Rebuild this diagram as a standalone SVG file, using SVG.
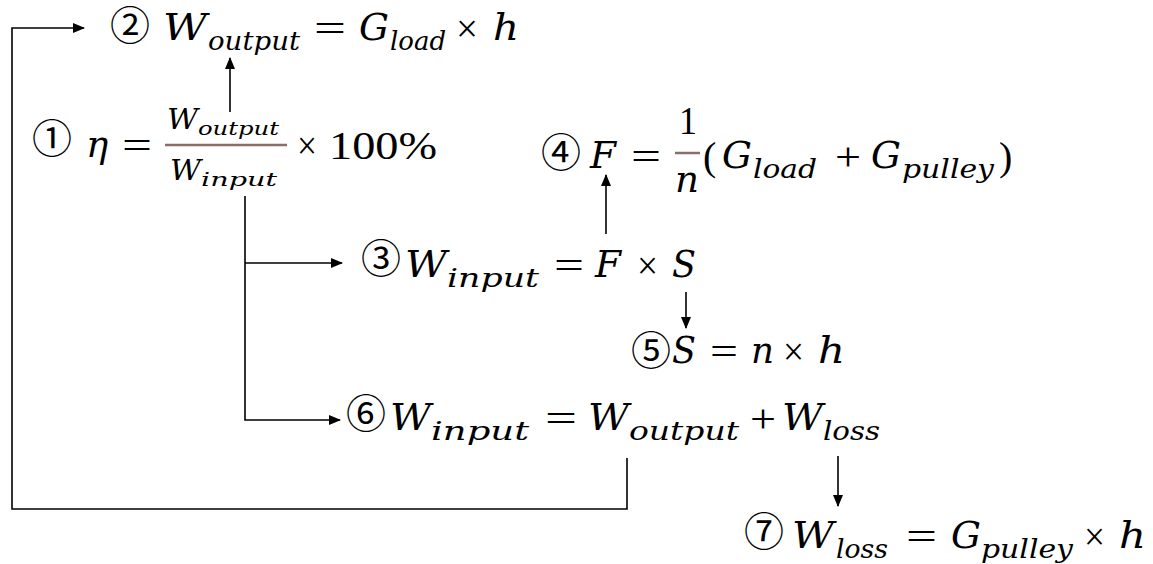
<svg xmlns="http://www.w3.org/2000/svg" width="1153" height="564" viewBox="0 0 1153 564">
<style>
.c{font-family:'Noto Sans CJK JP','Noto Sans CJK SC',sans-serif;font-size:40px;text-anchor:middle;fill:#000}
.v{font-family:'DejaVu Serif','Liberation Serif',serif;font-style:italic;font-size:37px;fill:#000}
.s{font-family:'DejaVu Serif','Liberation Serif',serif;font-style:italic;font-size:26px;fill:#000}
.fs{font-family:'DejaVu Serif','Liberation Serif',serif;font-style:italic;font-size:19px;fill:#000}
.o{font-family:'Liberation Serif','DejaVu Serif',serif;font-size:40px;fill:#000}
.ln{stroke:#000;stroke-width:1.6;fill:none}
.fr{stroke:#8c6d68;stroke-width:2.5}
</style>
<defs>
<marker id="ah" markerWidth="12" markerHeight="10" refX="11" refY="5" orient="auto" markerUnits="userSpaceOnUse">
<path d="M0,0 L12,5 L0,10 Z" fill="#000"/>
</marker>
</defs>
<g id="connectors">
<path class="ln" d="M627,458 V509 H12 V28 H84" marker-end="url(#ah)"/>
<path class="ln" d="M230,112 V58" marker-end="url(#ah)"/>
<path class="ln" d="M245,196 V420 H340" marker-end="url(#ah)"/>
<path class="ln" d="M245,263 H342" marker-end="url(#ah)"/>
<path class="ln" d="M606,234 V175" marker-end="url(#ah)"/>
<path class="ln" d="M686,292 V328" marker-end="url(#ah)"/>
<path class="ln" d="M838,456 V506" marker-end="url(#ah)"/>
</g>
<g id="node2">
<text class="c" x="130" y="40">②</text>
<text class="v" x="163" y="40" textLength="44" lengthAdjust="spacingAndGlyphs">W</text>
<text class="s" x="208" y="50" textLength="92" lengthAdjust="spacingAndGlyphs">output</text>
<text class="o" x="314" y="42" textLength="32" lengthAdjust="spacingAndGlyphs">=</text>
<text class="v" x="359" y="40" textLength="30" lengthAdjust="spacingAndGlyphs">G</text>
<text class="s" x="390" y="50" textLength="56" lengthAdjust="spacingAndGlyphs">load</text>
<text class="o" x="456" y="42" textLength="22" lengthAdjust="spacingAndGlyphs">×</text>
<text class="v" x="493" y="40" textLength="26" lengthAdjust="spacingAndGlyphs">h</text>
</g>
<g id="node1">
<text class="c" x="52" y="153">①</text>
<text class="v" x="86" y="157">η</text>
<text class="o" x="122" y="159" textLength="30" lengthAdjust="spacingAndGlyphs">=</text>
<line class="fr" x1="165" y1="145" x2="287" y2="145"/>
<text class="v" x="167" y="129" textLength="31" lengthAdjust="spacingAndGlyphs" style="font-size:27px">W</text>
<text class="fs" x="198" y="135" textLength="81" lengthAdjust="spacingAndGlyphs">output</text>
<text class="v" x="170" y="180" textLength="31" lengthAdjust="spacingAndGlyphs" style="font-size:27px">W</text>
<text class="fs" x="201" y="186" textLength="76" lengthAdjust="spacingAndGlyphs">input</text>
<text class="o" x="297" y="159" textLength="20" lengthAdjust="spacingAndGlyphs">×</text>
<text class="o" x="329" y="159" textLength="108" lengthAdjust="spacingAndGlyphs">100%</text>
</g>
<g id="node4">
<text class="c" x="561" y="167">④</text>
<text class="v" x="590" y="168" textLength="26" lengthAdjust="spacingAndGlyphs">F</text>
<text class="o" x="631" y="170" textLength="30" lengthAdjust="spacingAndGlyphs">=</text>
<line class="fr" x1="675" y1="153" x2="700" y2="153"/>
<text class="o" x="679" y="134" textLength="18" lengthAdjust="spacingAndGlyphs">1</text>
<text class="v" x="675" y="192" textLength="24" lengthAdjust="spacingAndGlyphs">n</text>
<text class="o" x="703" y="170">(</text>
<text class="v" x="722" y="168" textLength="30" lengthAdjust="spacingAndGlyphs">G</text>
<text class="s" x="753" y="178" textLength="64" lengthAdjust="spacingAndGlyphs">load</text>
<text class="o" x="835" y="170" textLength="26" lengthAdjust="spacingAndGlyphs">+</text>
<text class="v" x="871" y="168" textLength="30" lengthAdjust="spacingAndGlyphs">G</text>
<text class="s" x="902" y="178" textLength="92" lengthAdjust="spacingAndGlyphs">pulley</text>
<text class="o" x="999" y="170">)</text>
</g>
<g id="node3">
<text class="c" x="381" y="273">③</text>
<text class="v" x="405" y="277" textLength="42" lengthAdjust="spacingAndGlyphs">W</text>
<text class="s" x="447" y="287" textLength="92" lengthAdjust="spacingAndGlyphs">input</text>
<text class="o" x="554" y="279" textLength="30" lengthAdjust="spacingAndGlyphs">=</text>
<text class="v" x="595" y="277" textLength="26" lengthAdjust="spacingAndGlyphs">F</text>
<text class="o" x="637" y="279" textLength="21" lengthAdjust="spacingAndGlyphs">×</text>
<text class="v" x="672" y="277" textLength="24" lengthAdjust="spacingAndGlyphs">S</text>
</g>
<g id="node5">
<text class="c" x="651" y="365">⑤</text>
<text class="v" x="672" y="363" textLength="24" lengthAdjust="spacingAndGlyphs">S</text>
<text class="o" x="710" y="365" textLength="28" lengthAdjust="spacingAndGlyphs">=</text>
<text class="v" x="751" y="363" textLength="23" lengthAdjust="spacingAndGlyphs">n</text>
<text class="o" x="783" y="365" textLength="21" lengthAdjust="spacingAndGlyphs">×</text>
<text class="v" x="818" y="363" textLength="27" lengthAdjust="spacingAndGlyphs">h</text>
</g>
<g id="node6">
<text class="c" x="366" y="428">⑥</text>
<text class="v" x="390" y="430" textLength="41" lengthAdjust="spacingAndGlyphs">W</text>
<text class="s" x="431" y="440" textLength="98" lengthAdjust="spacingAndGlyphs">input</text>
<text class="o" x="545" y="432" textLength="32" lengthAdjust="spacingAndGlyphs">=</text>
<text class="v" x="588" y="430" textLength="41" lengthAdjust="spacingAndGlyphs">W</text>
<text class="s" x="629" y="440" textLength="110" lengthAdjust="spacingAndGlyphs">output</text>
<text class="o" x="750" y="432" textLength="26" lengthAdjust="spacingAndGlyphs">+</text>
<text class="v" x="782" y="430" textLength="41" lengthAdjust="spacingAndGlyphs">W</text>
<text class="s" x="823" y="440" textLength="57" lengthAdjust="spacingAndGlyphs">loss</text>
</g>
<g id="node7">
<text class="c" x="764" y="546">⑦</text>
<text class="v" x="792" y="548" textLength="42" lengthAdjust="spacingAndGlyphs">W</text>
<text class="s" x="836" y="558" textLength="52" lengthAdjust="spacingAndGlyphs">loss</text>
<text class="o" x="906" y="550" textLength="31" lengthAdjust="spacingAndGlyphs">=</text>
<text class="v" x="951" y="548" textLength="30" lengthAdjust="spacingAndGlyphs">G</text>
<text class="s" x="981" y="558" textLength="92" lengthAdjust="spacingAndGlyphs">pulley</text>
<text class="o" x="1084" y="550" textLength="21" lengthAdjust="spacingAndGlyphs">×</text>
<text class="v" x="1119" y="548" textLength="27" lengthAdjust="spacingAndGlyphs">h</text>
</g>
</svg>
